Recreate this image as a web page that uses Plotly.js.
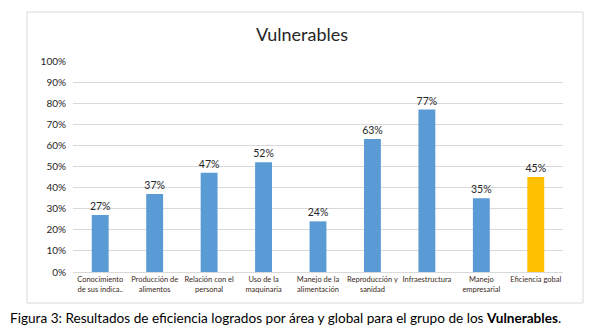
<!DOCTYPE html>
<html>
<head>
<meta charset="utf-8">
<script src="https://cdn.plot.ly/plotly-3.0.1.min.js"></script>
<style>html,body{margin:0;padding:0;background:#fff;}#chart{width:597px;height:332px;}</style>
</head>
<body>
<div id="chart"></div>
<script>
const categories = ["Conocimiento<br>de sus indica..", "Producción de<br>alimentos", "Relación con el<br>personal", "Uso de la<br>maquinaria", "Manejo de la<br>alimentación", "Reproducción y<br>sanidad", "Infraestructura", "Manejo<br>empresarial", "Eficiencia gobal"];
const values = [27, 37, 47, 52, 24, 63, 77, 35, 45];
const barColors = ["#5B9BD5", "#5B9BD5", "#5B9BD5", "#5B9BD5", "#5B9BD5", "#5B9BD5", "#5B9BD5", "#5B9BD5", "#FFC000"];
const yTicks = [0, 10, 20, 30, 40, 50, 60, 70, 80, 90, 100];
const yTickLabels = ["0%", "10%", "20%", "30%", "40%", "50%", "60%", "70%", "80%", "90%", "100%"];

const font = "Lato, 'Open Sans', sans-serif";
const W = 597, H = 332, L = 73, R = 34, T = 61, B = 60;
const pw = W - L - R, ph = H - T - B;
const px = x => (x - L) / pw;
const py = y => (H - B - y) / ph;

const trace = {
  type: "bar",
  x: categories,
  y: values,
  marker: {color: barColors},
  text: values.map(v => v + "%"),
  textposition: "outside",
  constraintext: "none",
  cliponaxis: false,
  textfont: {family: font, size: 10.5, color: "#262626"},
  hoverinfo: "skip"
};

const layout = {
  width: W, height: H,
  margin: {l: L, r: R, t: T, b: B},
  paper_bgcolor: "#fff",
  plot_bgcolor: "#fff",
  showlegend: false,
  bargap: 0.69,
  title: {text: "Vulnerables", x: 302 / W, xanchor: "center", y: 1 - 35 / H, yanchor: "middle",
          font: {family: font, size: 18, color: "#262626"}},
  xaxis: {
    type: "category",
    tickfont: {family: font, size: 7.5, color: "#3a2a1a"},
    showline: true, linecolor: "#d9d9d9", linewidth: 1,
    ticks: "", fixedrange: true
  },
  yaxis: {
    range: [0, 100],
    tickmode: "array",
    tickvals: yTicks,
    ticktext: yTickLabels,
    showgrid: true, gridcolor: "#d9d9d9", gridwidth: 1,
    zeroline: false, showline: false,
    tickfont: {family: font, size: 10, color: "#262626"},
    ticklabelstandoff: 6,
    fixedrange: true
  },
  shapes: [{
    type: "rect", xref: "paper", yref: "paper",
    x0: px(27), x1: px(583), y0: py(303), y1: py(12),
    line: {color: "#d9d9d9", width: 1}, fillcolor: "rgba(0,0,0,0)", layer: "below"
  }],
  annotations: [{
    xref: "paper", yref: "paper",
    x: px(8), y: py(318), xanchor: "left", yanchor: "middle",
    showarrow: false,
    text: "Figura 3: Resultados de eficiencia logrados por área y global para el grupo de los <b>Vulnerables</b>.",
    font: {family: font, size: 13.6, color: "#000"}
  }]
};

Plotly.newPlot("chart", [trace], layout, {staticPlot: true, displayModeBar: false});
</script>
</body>
</html>
